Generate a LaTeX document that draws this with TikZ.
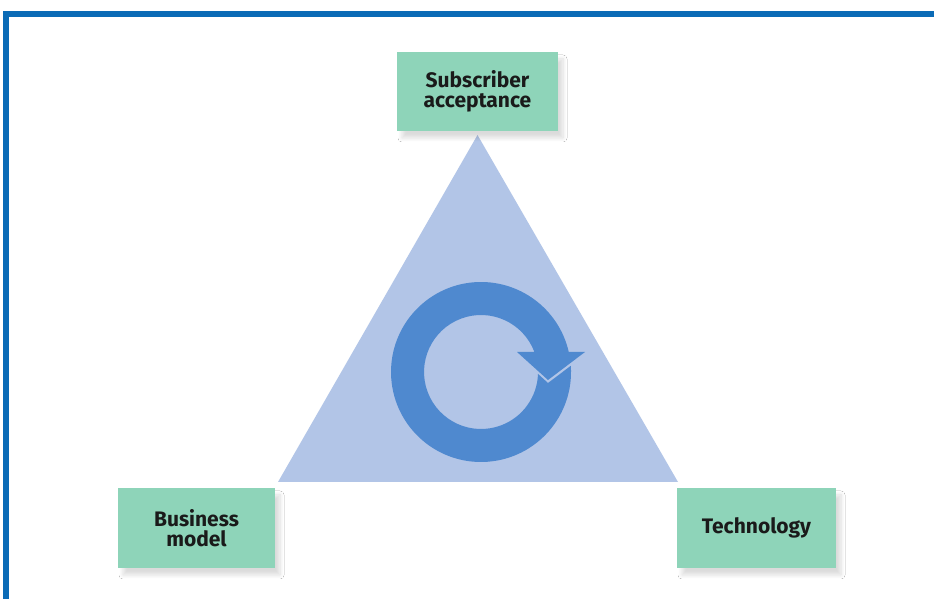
\documentclass[tikz,border=0pt]{standalone}
\usepackage{fontspec}
\setmainfont{Fira Sans}
\usetikzlibrary{shadows.blur}
\definecolor{frameblue}{HTML}{0B6BB6}
\definecolor{triblue}{HTML}{B2C5E7}
\definecolor{ringblue}{HTML}{4F89CF}
\definecolor{boxgreen}{HTML}{8ED4B9}
\definecolor{textdark}{HTML}{1A1A1A}
\tikzset{
  box/.style={fill=boxgreen, minimum width=160pt, minimum height=80pt, inner sep=0pt,
    align=center, text=textdark, font=\fontsize{21}{20}\selectfont\bfseries,
    blur shadow={shadow xshift=5pt, shadow yshift=-7pt, shadow blur steps=8, shadow blur radius=4pt, shadow opacity=14}},
  frame/.style={draw=frameblue, line width=6pt}
}
\begin{document}
\begin{tikzpicture}[x=1pt,y=1pt]
\useasboundingbox (0,0) rectangle (934,599);
\fill[white] (0,0) rectangle (934,599);
% frame
\coordinate (f1) at (6,-5);
\coordinate (f2) at (6,585);
\coordinate (f3) at (940,585);
\draw[frame] (f1) -- (f2) -- (f3);
% triangle
\coordinate (apex) at (477.5,464);
\coordinate (bl) at (278,117);
\coordinate (br) at (678,117);
\fill[triblue] (apex) -- (br) -- (bl) -- cycle;
% circular arrow
\coordinate (tailout) at (570.8,233.2);
\coordinate (tailin) at (538.0,225.1);
\coordinate (notch) at (548,216);
\coordinate (headR) at (585,247);
\coordinate (tip) at (548,219);
\coordinate (headL) at (517,247);
\coordinate (shin) at (534.4,247);
\fill[ringblue] (tailout) arc[start angle=3.95, end angle=-347.16, radius=90]
  -- (headR) -- (tip) -- (headL) -- (shin)
  arc[start angle=-339.45, end angle=-1.9, radius=57]
  -- (notch) -- cycle;
% boxes
\node[box, minimum width=161pt, minimum height=79pt] (sub) at (477.5,507.5) {Subscriber\\acceptance};
\node[box, minimum width=157pt] (bus) at (196.5,71) {Business\\model};
\node[box, minimum width=159pt] (tech) at (756.5,71) {Technology};
\end{tikzpicture}
\end{document}
